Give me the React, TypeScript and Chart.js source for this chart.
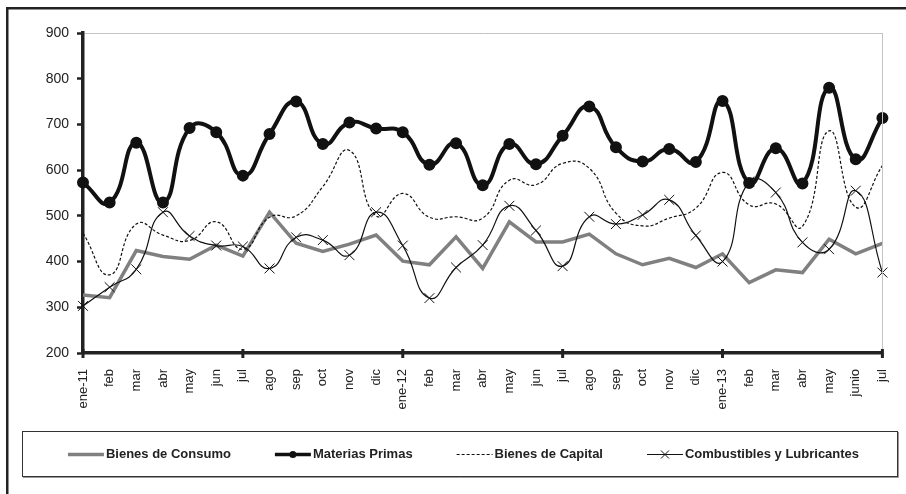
import React, { useEffect, useRef } from "react";
import { Chart, registerables } from "chart.js";

Chart.register(...registerables);

const categories = ["ene-11","feb","mar","abr","may","jun","jul","ago","sep","oct","nov","dic","ene-12","feb","mar","abr","may","jun","jul","ago","sep","oct","nov","dic","ene-13","feb","mar","abr","may","junio","jul"];

const consumo = [327,321,424,411,405,436,412,508,440,422,438,458,401,393,454,385,487,443,443,460,417,393,407,387,417,354,382,376,449,417,440];
const materias = [573,529,660,529,692,683,588,679,750,657,704,691,683,612,659,567,657,613,675,739,650,619,646,618,751,572,648,571,780,624,714];
const capital = [462,371,482,458,446,487,427,497,500,564,643,500,549,497,498,495,578,568,615,604,506,478,495,517,595,524,526,477,686,519,610];
const combustibles = [303,344,383,508,456,435,433,385,453,447,414,508,435,320,387,436,522,468,390,498,482,502,535,457,400,575,551,442,427,555,376];

const seriesNames = ["Bienes de Consumo","Materias Primas","Bienes de Capital","Combustibles y Lubricantes"];
const yTicks = [200,300,400,500,600,700,800,900];

const FONT = "Arial, 'Liberation Sans', sans-serif";

const decorPlugin = {
  id: "decor",
  afterDraw(chart: any) {
    const { ctx, chartArea, scales } = chart;
    ctx.save();
    // plot area light border (right)
    ctx.strokeStyle = "#c4c4c4";
    ctx.lineWidth = 1;
    ctx.beginPath();
    ctx.moveTo(Math.round(chartArea.right) + 0.5, chartArea.top);
    ctx.lineTo(Math.round(chartArea.right) + 0.5, chartArea.bottom);
    ctx.stroke();
    // x tick marks every 6 categories
    ctx.fillStyle = "#222";
    for (let i = 0; i < categories.length; i += 6) {
      const x = scales.x.getPixelForValue(i);
      ctx.fillRect(x - 1.5, chartArea.bottom - 4, 3, 9);
    }
    // outer frame (left & top)
    ctx.fillStyle = "#222";
    ctx.fillRect(6, 7, 2.5, 494);
    ctx.fillRect(6, 7, 900, 2.5);

    // legend box
    const bx = 22, by = 431, bw = 875, bh = 45;
    ctx.strokeStyle = "#999";
    ctx.lineWidth = 1;
    ctx.beginPath();
    ctx.moveTo(bx + 1, by + bh + 1.5);
    ctx.lineTo(bx + bw + 1.5, by + bh + 1.5);
    ctx.lineTo(bx + bw + 1.5, by + 1);
    ctx.stroke();
    ctx.strokeStyle = "#333";
    ctx.strokeRect(bx + 0.5, by + 0.5, bw, bh);

    ctx.font = `bold 13px ${FONT}`;
    ctx.textBaseline = "middle";
    const sample = 36;
    const gap = 44;
    const widths = seriesNames.map((n) => sample + 2 + ctx.measureText(n).width);
    const total = widths.reduce((a, b) => a + b, 0) + gap * (seriesNames.length - 1);
    let x = bx + bw / 2 - total / 2 + 4;
    const cy = by + bh / 2 + 1;
    seriesNames.forEach((name, i) => {
      ctx.save();
      ctx.beginPath();
      if (i === 0) {
        ctx.strokeStyle = "#808080";
        ctx.lineWidth = 3.5;
      } else if (i === 1) {
        ctx.strokeStyle = "#111";
        ctx.lineWidth = 3.5;
      } else if (i === 2) {
        ctx.strokeStyle = "#111";
        ctx.lineWidth = 1.2;
        ctx.setLineDash([3, 2]);
      } else {
        ctx.strokeStyle = "#111";
        ctx.lineWidth = 1.2;
      }
      ctx.moveTo(x, cy);
      ctx.lineTo(x + sample, cy);
      ctx.stroke();
      ctx.setLineDash([]);
      const mx = x + sample / 2;
      if (i === 1) {
        ctx.fillStyle = "#111";
        ctx.beginPath();
        ctx.arc(mx, cy, 3.5, 0, Math.PI * 2);
        ctx.fill();
      } else if (i === 3) {
        ctx.lineWidth = 1;
        ctx.beginPath();
        ctx.moveTo(mx - 4, cy - 4);
        ctx.lineTo(mx + 4, cy + 4);
        ctx.moveTo(mx - 4, cy + 4);
        ctx.lineTo(mx + 4, cy - 4);
        ctx.stroke();
      }
      ctx.restore();
      ctx.fillStyle = "#222";
      ctx.textAlign = "left";
      ctx.fillText(name, x + sample + 2, cy);
      x += widths[i] + gap;
    });
    ctx.restore();
  },
};

export default function App() {
  const ref = useRef<HTMLCanvasElement>(null);
  useEffect(() => {
    document.body.style.margin = "0";
    const chart = new Chart(ref.current!, {
      type: "line",
      data: {
        labels: categories,
        datasets: [
          {
            label: seriesNames[0],
            data: consumo,
            borderColor: "#808080",
            borderWidth: 3.5,
            tension: 0,
            pointRadius: 0,
            order: 4,
          },
          {
            label: seriesNames[1],
            data: materias,
            borderColor: "#111",
            backgroundColor: "#111",
            borderWidth: 4,
            tension: 0.5,
            pointRadius: 4,
            pointBackgroundColor: "#111",
            pointBorderColor: "#111",
            order: 3,
          },
          {
            label: seriesNames[2],
            data: capital,
            borderColor: "#111",
            borderWidth: 1.2,
            borderDash: [3, 2],
            tension: 0.5,
            pointRadius: 0,
            order: 2,
          },
          {
            label: seriesNames[3],
            data: combustibles,
            borderColor: "#111",
            borderWidth: 1.2,
            tension: 0.5,
            pointStyle: "crossRot",
            pointRadius: 7,
            pointBorderWidth: 1,
            pointBorderColor: "#111",
            order: 1,
          },
        ],
      },
      options: {
        animation: false,
        responsive: false,
        devicePixelRatio: 1,
        layout: { padding: { top: 33, right: 20, left: 0, bottom: 81 } },
        plugins: { legend: { display: false }, tooltip: { enabled: false } },
        scales: {
          x: {
            type: "category",
            offset: false,
            grid: { display: false },
            border: { display: true, color: "#222", width: 3.5 },
            ticks: {
              autoSkip: false,
              minRotation: 90,
              maxRotation: 90,
              padding: 8,
              color: "#222",
              font: { family: FONT, size: 13 },
            },
            afterFit: (s: any) => {
              s.height = 60;
            },
          },
          y: {
            min: 200,
            max: 900,
            afterBuildTicks: (s: any) => {
              s.ticks = yTicks.map((v) => ({ value: v }));
            },
            grid: {
              drawOnChartArea: true,
              color: (c: any) => (c.tick && c.tick.value === 900 ? "#c4c4c4" : "rgba(0,0,0,0)"),
              lineWidth: 1,
              tickColor: "#222",
              tickWidth: 2.5,
              tickLength: 6,
            },
            border: { display: true, color: "#222", width: 3.5 },
            ticks: {
              padding: 8,
              color: "#222",
              font: { family: FONT, size: 14 },
            },
            afterFit: (s: any) => {
              s.width = 83;
            },
          },
        },
      },
      plugins: [decorPlugin],
    } as any);
    return () => chart.destroy();
  }, []);
  return (
    <div style={{ position: "absolute", left: 0, top: 0, width: 906, height: 494, background: "#fff" }}>
      <canvas ref={ref} width={906} height={494} style={{ width: 906, height: 494, display: "block" }} />
    </div>
  );
}
